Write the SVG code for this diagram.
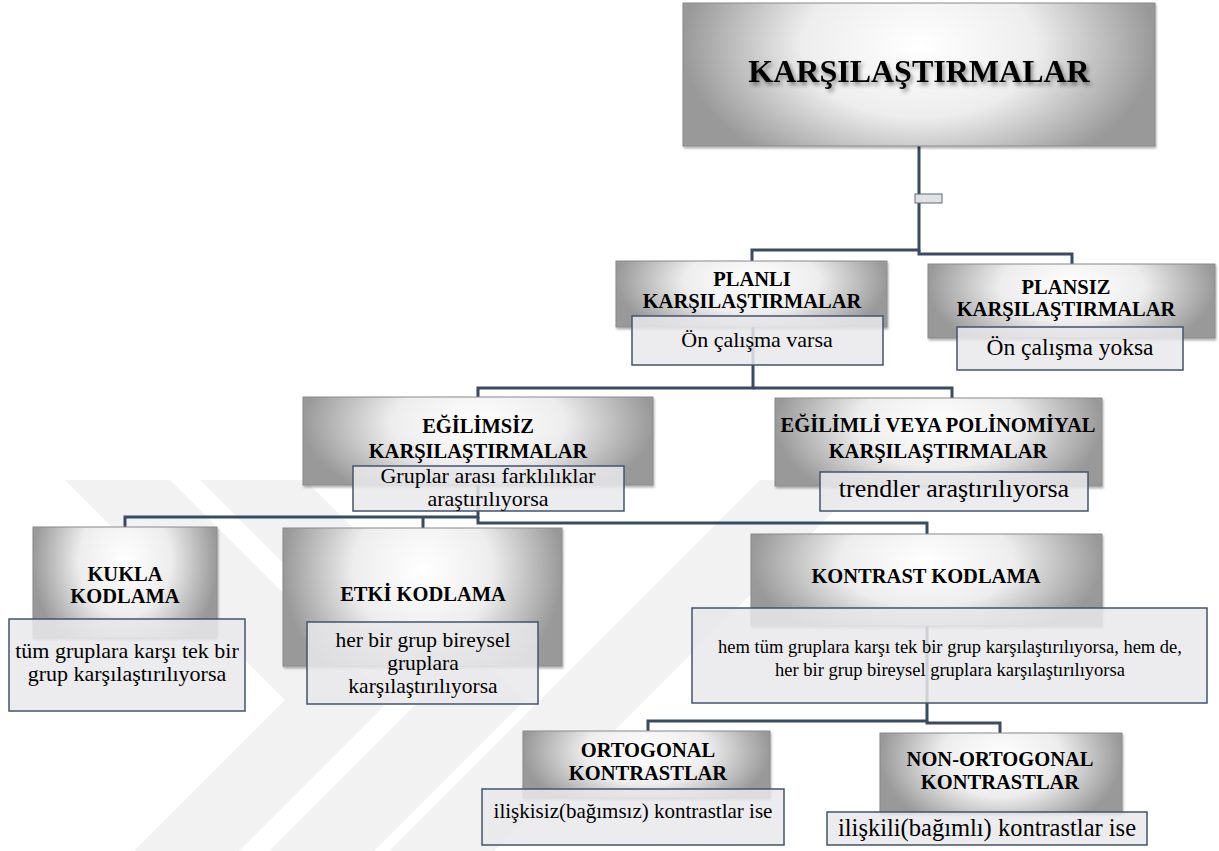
<svg xmlns="http://www.w3.org/2000/svg" width="1219" height="851" viewBox="0 0 1219 851">
<defs>
<radialGradient id="gb" cx="0.5" cy="0.3" r="0.5" gradientTransform="translate(0.5,0.3) scale(1,2) translate(-0.5,-0.3)">
<stop offset="0" stop-color="#ffffff"/>
<stop offset="0.5" stop-color="#ededed"/>
<stop offset="1" stop-color="#999999"/>
</radialGradient>
<filter id="ts" x="-10%" y="-30%" width="120%" height="160%">
<feDropShadow dx="2" dy="3" stdDeviation="2" flood-color="#000" flood-opacity="0.45"/>
</filter>
<filter id="bs" x="-5%" y="-5%" width="110%" height="115%">
<feDropShadow dx="1" dy="2" stdDeviation="1.2" flood-color="#000" flood-opacity="0.3"/>
</filter>
</defs>
<style>
.g{fill:url(#gb);stroke:#8a8a8a;stroke-width:1;filter:url(#bs)}
.s{fill:#e9e9eb;fill-opacity:0.85;stroke:#44546b;stroke-width:1.5}
.c{fill:none;stroke:#3a4a60;stroke-width:3}
text{font-family:'Liberation Serif','Times New Roman','DejaVu Serif',serif;fill:#000;text-anchor:middle}
.b{font-weight:bold;font-size:20.5px}
.r{font-size:22px}
.wm{fill:#f2f2f2}
</style>
<rect width="1219" height="851" fill="#ffffff"/>
<g id="watermark">
<polygon class="wm" points="65,480 170,480 390,700 239,851 134,851 285,700"/>
<polygon class="wm" points="200,480 305,480 525,700 374,851 269,851 420,700"/>
<polygon class="wm" points="760,480 865,480 494,851 389,851"/>
</g>
<g id="connectors">
<path class="c" d="M919,146 V250 H752 V261"/>
<path class="c" d="M919,250 V254 H1072 V264"/>
<rect x="915" y="194" width="27" height="9" fill="#e2e2e4" stroke="#5a6a80" stroke-width="1"/>
<path class="c" d="M753,327 V388 H478 V397"/>
<path class="c" d="M753,388 H952 V398"/>
<path class="c" d="M478,485 V517 H125 V527"/>
<path class="c" d="M423,517 V528"/>
<path class="c" d="M478,517 V523 H927 V534"/>
<path class="c" d="M927,626 V721 H648 V731"/>
<path class="c" d="M927,721 V723 H1000 V733"/>
</g>
<g id="n-karsilastirmalar">
<rect class="g" x="683" y="3" width="472" height="143"/>
<text x="919" y="82" class="b" style="font-size:32px" filter="url(#ts)">KARŞILAŞTIRMALAR</text>
</g>
<g id="n-planli">
<rect class="g" x="616" y="261" width="271" height="66"/>
<text x="752" y="286" class="b">PLANLI</text>
<text x="752" y="308" class="b">KARŞILAŞTIRMALAR</text>
<rect class="s" x="632" y="316" width="251" height="49"/>
<text x="757" y="347" class="r">Ön çalışma varsa</text>
</g>
<g id="n-plansiz">
<rect class="g" x="928" y="264" width="287" height="74"/>
<text x="1066" y="294" class="b">PLANSIZ</text>
<text x="1066" y="316" class="b">KARŞILAŞTIRMALAR</text>
<rect class="s" x="957" y="327" width="226" height="43"/>
<text x="1070" y="355" class="r" style="font-size:23.5px">Ön çalışma yoksa</text>
</g>
<g id="n-egilimsiz">
<rect class="g" x="303" y="397" width="350" height="88"/>
<text x="478" y="433" class="b">EĞİLİMSİZ</text>
<text x="478" y="458" class="b">KARŞILAŞTIRMALAR</text>
<rect class="s" x="353" y="466" width="271" height="45"/>
<text x="488" y="483" class="r">Gruplar arası farklılıklar</text>
<text x="488" y="506" class="r">araştırılıyorsa</text>
</g>
<g id="n-egilimli">
<rect class="g" x="775" y="398" width="327" height="88"/>
<text x="938" y="432" class="b">EĞİLİMLİ VEYA POLİNOMİYAL</text>
<text x="938" y="458" class="b">KARŞILAŞTIRMALAR</text>
<rect class="s" x="820" y="472" width="268" height="39"/>
<text x="954" y="497" class="r" style="font-size:26px">trendler araştırılıyorsa</text>
</g>
<g id="n-kukla">
<rect class="g" x="33" y="527" width="184" height="111"/>
<text x="125" y="581" class="b">KUKLA</text>
<text x="125" y="603" class="b">KODLAMA</text>
<rect class="s" x="9" y="619" width="236" height="92"/>
<text x="127" y="658" class="r">tüm gruplara karşı tek bir</text>
<text x="127" y="681" class="r">grup karşılaştırılıyorsa</text>
</g>
<g id="n-etki">
<rect class="g" x="283" y="528" width="279" height="138"/>
<text x="423" y="601" class="b">ETKİ KODLAMA</text>
<rect class="s" x="307" y="622" width="231" height="82"/>
<text x="423" y="647" class="r" style="font-size:21.5px">her bir grup bireysel</text>
<text x="423" y="670" class="r" style="font-size:21.5px">gruplara</text>
<text x="423" y="693" class="r" style="font-size:21.5px">karşılaştırılıyorsa</text>
</g>
<g id="n-kontrast">
<rect class="g" x="751" y="534" width="351" height="92"/>
<text x="926" y="583" class="b">KONTRAST KODLAMA</text>
<rect class="s" x="692" y="608" width="515" height="95"/>
<text x="950" y="653" class="r" style="font-size:18.5px">hem tüm gruplara karşı tek bir grup karşılaştırılıyorsa, hem de,</text>
<text x="950" y="676" class="r" style="font-size:18.5px">her bir grup bireysel gruplara karşılaştırılıyorsa</text>
</g>
<g id="n-ortogonal">
<rect class="g" x="523" y="731" width="247" height="67"/>
<text x="648" y="757" class="b">ORTOGONAL</text>
<text x="648" y="780" class="b">KONTRASTLAR</text>
<rect class="s" x="482" y="789" width="302" height="56"/>
<text x="633" y="818" class="r" style="font-size:21px">ilişkisiz(bağımsız) kontrastlar ise</text>
</g>
<g id="n-nonortogonal">
<rect class="g" x="880" y="733" width="242" height="80"/>
<text x="1000" y="766" class="b">NON-ORTOGONAL</text>
<text x="1000" y="789" class="b">KONTRASTLAR</text>
<rect class="s" x="827" y="812" width="320" height="33"/>
<text x="987" y="836" class="r" style="font-size:24.5px">ilişkili(bağımlı) kontrastlar ise</text>
</g>
</svg>
